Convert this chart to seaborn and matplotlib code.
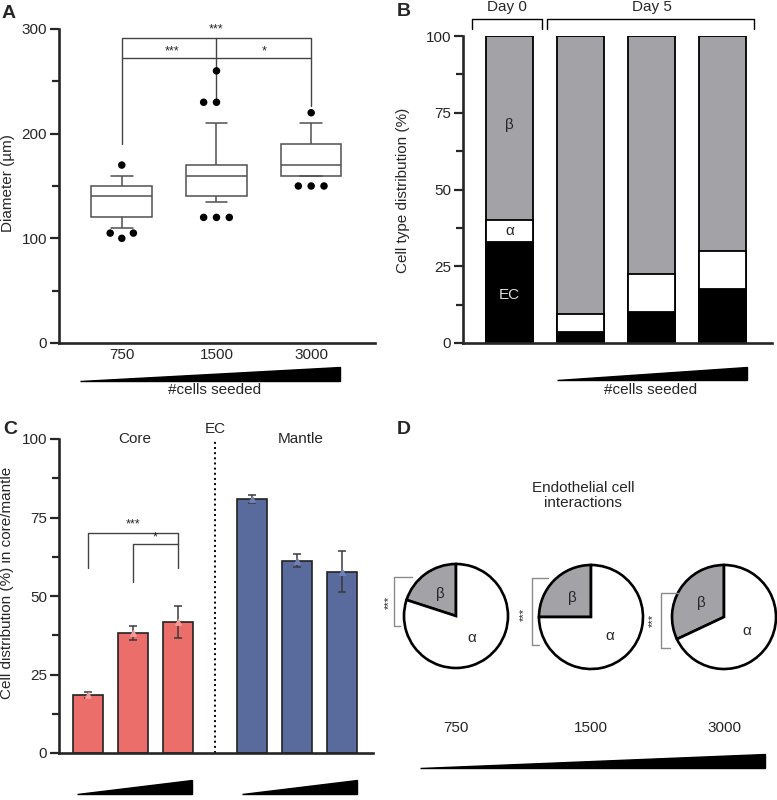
import matplotlib
matplotlib.use("Agg")
import matplotlib.pyplot as plt
from matplotlib.patches import Polygon
from matplotlib.lines import Line2D
import seaborn as sns
import pandas as pd
import numpy as np

# ---- data ----
seeding = ["750", "1500", "3000"]

# A: box summaries (low whisker, Q1, median, Q3, high whisker) and outlying spheroids
box_750 = [110, 120, 140, 150, 160]
box_1500 = [135, 140, 160, 170, 210]
box_3000 = [160, 160, 170, 190, 210]
out_750 = [100, 105, 105, 170]
out_1500 = [120, 120, 120, 230, 230, 260]
out_3000 = [150, 150, 150, 220]

# B: cell type distribution (%)
b_groups = ["Day 0", "750", "1500", "3000"]
b_ec = [33, 3.5, 10, 17.5]
b_alpha = [7, 6, 12.5, 12.5]
b_beta = [60, 90.5, 77.5, 70]

# C: EC distribution in core / mantle (mean, lower, upper)
c_core_mean = [18.5, 38.3, 41.8]
c_core_lo = [17.6, 35.9, 36.6]
c_core_hi = [19.4, 40.6, 46.8]
c_mantle_mean = [80.9, 61.2, 57.8]
c_mantle_lo = [79.6, 59.1, 51.4]
c_mantle_hi = [82.1, 63.3, 64.2]

# D: endothelial cell interactions, share with beta cells (%)
d_beta = [20, 25, 32]

RED = "#EB6E6B"
BLUE = "#596A9C"
GREY = "#A3A3A7"

sns.set_style("ticks")
plt.rcParams["font.family"] = ["Liberation Sans", "DejaVu Sans"]
plt.rcParams["font.size"] = 11

W, H = 777, 800
fig = plt.figure(figsize=(W / 100, H / 100), dpi=100)


def rect(l, t, r, b):
    return [l / W, 1 - b / H, (r - l) / W, (b - t) / H]


def fx(x):
    return x / W


def fy(y):
    return 1 - y / H


def fig_line(xs, ys, **kw):
    fig.add_artist(Line2D([fx(x) for x in xs], [fy(y) for y in ys], **kw))


def fig_wedge(x0, x1, ybot, ytop):
    fig.add_artist(Polygon([(fx(x0), fy(ybot)), (fx(x1), fy(ybot)), (fx(x1), fy(ytop))],
                           closed=True, color="black", transform=fig.transFigure))


def style_axis(ax, major, minor):
    sns.despine(ax=ax)
    for s in ["left", "bottom"]:
        ax.spines[s].set_linewidth(1.9)
    ax.set_yticks(major)
    ax.set_yticks(minor, minor=True)
    ax.tick_params(axis="y", which="major", length=6.5, width=1.6, labelsize=11, pad=2)
    ax.tick_params(axis="y", which="minor", length=5, width=1.6)
    ax.tick_params(axis="x", length=0, labelsize=11)
    ax.set_xlabel("")
    ax.set_ylabel("")


# ---------------- A ----------------
axA = fig.add_axes(rect(59, 29, 375, 343))
dfA = pd.DataFrame({
    "seeded": [s for s, v in zip(seeding, [box_750, box_1500, box_3000]) for _ in v],
    "diameter": box_750 + box_1500 + box_3000,
})
dfA_out = pd.DataFrame({
    "seeded": [s for s, v in zip(seeding, [out_750, out_1500, out_3000]) for _ in v],
    "diameter": out_750 + out_1500 + out_3000,
})
sns.boxplot(data=dfA, x="seeded", y="diameter", order=seeding, whis=(0, 100), width=0.64,
            color="white", linecolor="#505050", linewidth=1.1, showfliers=False,
            capwidths=0.23, ax=axA)
sns.swarmplot(data=dfA_out, x="seeded", y="diameter", order=seeding, color="black",
              size=5.4, linewidth=3.4, edgecolor="none", ax=axA)
axA.set_xlim(-0.663, 2.674)
axA.set_ylim(0, 300)
style_axis(axA, [0, 100, 200, 300], [50, 150, 250])
lc = "#444444"
axA.plot([0, 0, 2, 2], [190, 291, 291, 226], color=lc, lw=1, clip_on=False)
axA.plot([0, 2], [272, 272], color=lc, lw=1)
axA.plot([1, 1], [291, 232], color=lc, lw=1)
axA.text(1, 294, "***", ha="center", va="bottom", fontsize=9, clip_on=False)
axA.text(0.53, 279, "***", ha="center", va="center", fontsize=9)
axA.text(1.5, 279, "*", ha="center", va="center", fontsize=9)
fig.text(fx(8), fy(183), "Diameter (µm)", rotation=90, ha="center", va="center", fontsize=11)
fig_wedge(80, 340, 381, 367)
fig.text(fx(215), fy(390), "#cells seeded", ha="center", va="center", fontsize=11)

# ---------------- B ----------------
axB = fig.add_axes(rect(463, 36, 772, 343))
dfB = pd.DataFrame({"group": b_groups, "EC": b_ec, "alpha": b_alpha, "beta": b_beta})
dfB["alpha_top"] = dfB["EC"] + dfB["alpha"]
dfB["beta_top"] = dfB["alpha_top"] + dfB["beta"]
for col, c in [("beta_top", GREY), ("alpha_top", "white"), ("EC", "black")]:
    sns.barplot(data=dfB, x="group", y=col, order=b_groups, color=c, saturation=1,
                width=0.66, edgecolor="black", linewidth=1.3, errorbar=None, ax=axB)
axB.set_xlim(-0.655, 3.69)
axB.set_ylim(0, 100)
style_axis(axB, [0, 25, 50, 75, 100], [12.5, 37.5, 62.5, 87.5])
axB.tick_params(axis="x", labelbottom=False)
axB.text(0, 71, "β", ha="center", va="center", fontsize=11)
axB.text(0, 36.5, "α", ha="center", va="center", fontsize=11)
axB.text(0, 15.5, "EC", ha="center", va="center", fontsize=11, color="#dddddd")
fig.text(fx(403), fy(190), "Cell type distribution (%)", rotation=90, ha="center", va="center",
         fontsize=11)
fig_line([472, 472, 542, 542], [29, 19, 19, 29], color="black", lw=1)
fig_line([547, 547, 754, 754], [29, 19, 19, 29], color="black", lw=1)
fig.text(fx(507), fy(7), "Day 0", ha="center", va="center", fontsize=11)
fig.text(fx(652), fy(7), "Day 5", ha="center", va="center", fontsize=11)
fig_wedge(557, 747, 380, 367)
fig.text(fx(651), fy(390), "#cells seeded", ha="center", va="center", fontsize=11)

# ---------------- C ----------------
axC = fig.add_axes(rect(59, 439, 373, 753))
dfC = pd.DataFrame({
    "region": ["Core"] * 3 + ["Mantle"] * 3,
    "seeded": seeding * 2,
    "mean": c_core_mean + c_mantle_mean,
    "lo": c_core_lo + c_mantle_lo,
    "hi": c_core_hi + c_mantle_hi,
})
for region, colr in [("Core", RED), ("Mantle", BLUE)]:
    sub = dfC[dfC["region"] == region]
    sns.barplot(data=sub, x="region", y="mean", hue="seeded", order=["Core", "Mantle"],
                hue_order=seeding, palette=[colr] * 3, saturation=1, width=0.823, gap=0.33,
                edgecolor="#222222", linewidth=1.2, errorbar=None, legend=False, ax=axC)
bars = sorted([p for p in axC.patches if p.get_height() > 0], key=lambda p: p.get_x())
xs = np.array([p.get_x() + p.get_width() / 2 for p in bars])
means = dfC["mean"].to_numpy()
axC.errorbar(xs, means, yerr=[means - dfC["lo"].to_numpy(), dfC["hi"].to_numpy() - means],
             fmt="none", ecolor="#3a3a3a", elinewidth=1.1, capsize=2.8, capthick=1.1, zorder=4)
axC.scatter(xs[:3], means[:3], marker="^", s=16, color="#F59A96", zorder=5)
axC.scatter(xs[3:], means[3:], marker="^", s=16, color="#6E80B5", zorder=5)
axC.set_xlim(-0.451, 1.463)
axC.set_ylim(0, 100)
style_axis(axC, [0, 25, 50, 75, 100], [12.5, 37.5, 62.5, 87.5])
axC.tick_params(axis="x", labelbottom=False)
axC.axvline(0.5, ls=":", color="black", lw=1.4)
axC.text(0.01, 100, "Core", ha="center", va="center", fontsize=11)
axC.text(1.02, 100, "Mantle", ha="center", va="center", fontsize=11)
axC.text(0.5, 103.3, "EC", ha="center", va="center", fontsize=11, clip_on=False)
axC.plot([xs[0], xs[0], xs[2], xs[2]], [59, 70, 70, 59], color=lc, lw=1)
axC.plot([xs[1], xs[1], xs[2]], [54.5, 66.5, 66.5], color=lc, lw=1)
axC.text(xs[1], 71, "***", ha="center", va="bottom", fontsize=9)
axC.text((xs[1] + xs[2]) / 2, 66.8, "*", ha="center", va="bottom", fontsize=9)
fig.text(fx(7), fy(583), "Cell distribution (%) in core/mantle", rotation=90, ha="center",
         va="center", fontsize=11)
fig_wedge(77, 192, 794, 780)
fig_wedge(242, 357, 794, 780)

# ---------------- D ----------------
pie_centers = [(456, 616), (591, 617), (724, 617)]
r = 52
for (cx, cy), beta, lab in zip(pie_centers, d_beta, seeding):
    ax = fig.add_axes(rect(cx - 1.05 * r, cy - 1.05 * r, cx + 1.05 * r, cy + 1.05 * r))
    ax.pie([beta, 100 - beta], colors=[GREY, "white"], labels=["β", "α"], startangle=90,
           counterclock=True, labeldistance=0.52,
           wedgeprops={"edgecolor": "black", "linewidth": 1.9},
           textprops={"fontsize": 11, "ha": "center", "va": "center"})
    ax.set_xlim(-1.05, 1.05)
    ax.set_ylim(-1.05, 1.05)
    ax.set_aspect("equal")
    fig.text(fx(cx), fy(728), lab, ha="center", va="center", fontsize=11)

bc = "#8a8a8a"
for vx, y0, y1, xtop, xbot, sx, sy in [(394, 577, 626, 412, 400, 389, 602),
                                       (532, 578, 645, 548, 539, 524, 614),
                                       (661, 593, 648, 679, 670, 653, 620)]:
    fig_line([xtop, vx, vx, xbot], [y0, y0, y1, y1], color=bc, lw=1)
    fig.text(fx(sx), fy(sy), "***", rotation=90, ha="center", va="center", fontsize=8)

fig.text(fx(583), fy(495.5), "Endothelial cell\ninteractions", ha="center", va="center",
         fontsize=11, linespacing=1.15)
fig_wedge(420, 765, 768, 754)

# panel letters
for letter, (x, y) in zip("ABCD", [(9, 14), (404, 12), (10, 430), (404, 430)]):
    fig.text(fx(x), fy(y), letter, ha="center", va="center", fontsize=14, fontweight="bold")

fig.savefig("out.png", dpi=100)
